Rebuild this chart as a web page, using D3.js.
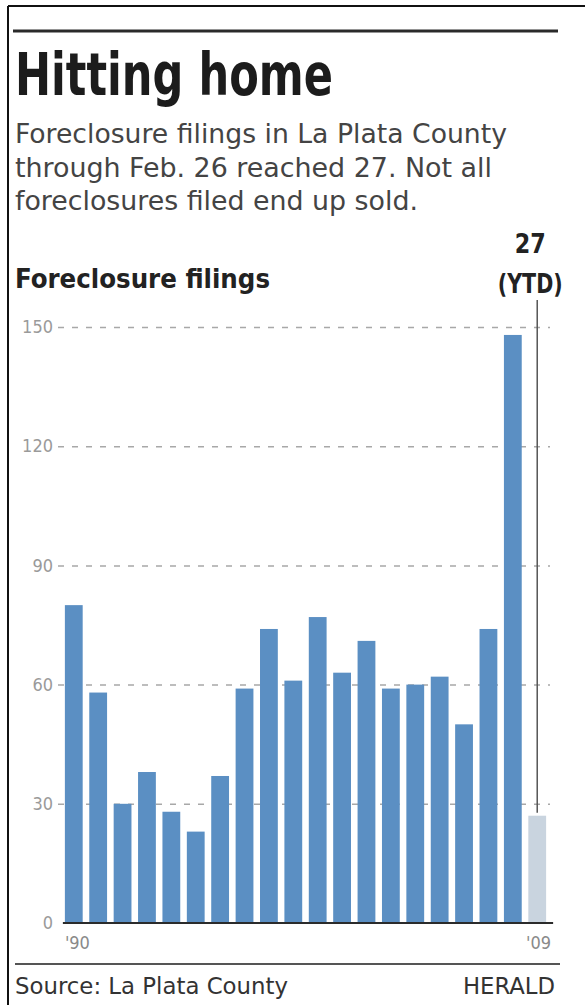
<!DOCTYPE html>
<html>
  <head>
    <meta charset="utf-8">
    <script src="https://d3js.org/d3.v7.min.js"></script>
    <title>Hitting home</title>
    <style>
      body {
        margin: 0px;
        background: #fff;
      }
      text {
        font-family: 'DejaVu Sans Condensed', 'DejaVu Sans', sans-serif;
      }
      .domain {
        display: none;
      }
      .tick line {
        stroke: #a8a8a8;
        stroke-width: 1.5;
        stroke-dasharray: 6, 8;
      }
      .tick text {
        fill: #9a9a9a;
        font-size: 18px;
      }
    </style>
  </head>
  <body>
    <svg width="585" height="1005"></svg>
    <script>

      const years = ['1990', '1991', '1992', '1993', '1994', '1995', '1996',
        '1997', '1998', '1999', '2000', '2001', '2002', '2003', '2004', '2005',
        '2006', '2007', '2008', '2009'];
      const filings = [80, 58, 30, 38, 28, 23, 37, 59, 74, 61, 77, 63, 71, 59,
        60, 62, 50, 74, 148, 27];
      const yTickValues = [0, 30, 60, 90, 120, 150];
      const yearLabels = ["'90", "'09"];
      const ytdLabel = ['27', '(YTD)'];

      const data = years.map((year, i) => ({ year, value: filings[i] }));
      const lastYear = years[years.length - 1];

      const margin = { left: 58, right: 35, top: 327, bottom: 82 };

      const svg = d3.select('svg');
      const width = +svg.attr('width');
      const height = +svg.attr('height');
      const innerWidth = width - margin.left - margin.right;
      const innerHeight = height - margin.top - margin.bottom;

      // squeeze/stretch a text to the width it takes in the print layout
      const fit = (sel, w) => sel
          .attr('textLength', w)
          .attr('lengthAdjust', 'spacingAndGlyphs');

      // frame (cropped: only top and left edges show)
      svg.append('line')
          .attr('x1', 8).attr('x2', width).attr('y1', 6).attr('y2', 6)
          .attr('stroke', '#111').attr('stroke-width', 2);
      svg.append('line')
          .attr('x1', 8).attr('x2', 8).attr('y1', 6).attr('y2', height)
          .attr('stroke', '#111').attr('stroke-width', 2);

      // header
      svg.append('line')
          .attr('x1', 13).attr('x2', 558).attr('y1', 31).attr('y2', 31)
          .attr('stroke', '#2a2a2a').attr('stroke-width', 3);

      svg.append('text')
          .attr('x', 15)
          .attr('y', 95)
          .attr('fill', '#1c1c1c')
          .style('font-size', '58px')
          .style('font-weight', 'bold')
          .call(fit, 318)
          .text('Hitting home');

      const subtitle = [
        'Foreclosure filings in La Plata County',
        'through Feb. 26 reached 27. Not all',
        'foreclosures filed end up sold.'
      ];
      const subtitleWidths = [492, 477, 403];
      svg.append('g').selectAll('text').data(subtitle)
        .enter().append('text')
          .attr('x', 15)
          .attr('y', (d, i) => 143 + i * 33.5)
          .attr('fill', '#444')
          .style('font-size', '26px')
          .attr('textLength', (d, i) => subtitleWidths[i])
          .attr('lengthAdjust', 'spacingAndGlyphs')
          .text(d => d);

      svg.append('text')
          .attr('x', 15)
          .attr('y', 288)
          .attr('fill', '#222')
          .style('font-size', '27px')
          .style('font-weight', 'bold')
          .call(fit, 255)
          .text('Foreclosure filings');

      // footer
      svg.append('line')
          .attr('x1', 15).attr('x2', 560).attr('y1', 964).attr('y2', 964)
          .attr('stroke', '#555').attr('stroke-width', 2);
      svg.append('text')
          .attr('x', 15)
          .attr('y', 994)
          .attr('fill', '#333')
          .style('font-size', '23px')
          .call(fit, 273)
          .text('Source: La Plata County');
      svg.append('text')
          .attr('x', 463)
          .attr('y', 994)
          .attr('fill', '#333')
          .style('font-size', '23px')
          .call(fit, 92)
          .text('HERALD');

      // chart
      const g = svg.append('g')
          .attr('transform', `translate(${margin.left},${margin.top})`);

      const xScale = d3.scaleBand()
          .domain(years)
          .range([2, innerWidth + 1])
          .paddingInner(0.27)
          .paddingOuter(0.2);

      const yScale = d3.scaleLinear()
          .domain([0, 150])
          .range([innerHeight, 0]);

      const yAxis = d3.axisLeft(yScale)
          .tickValues(yTickValues)
          .tickSize(-innerWidth)
          .tickPadding(5);

      const yAxisG = g.append('g').call(yAxis);
      yAxisG.selectAll('.tick')
          .filter(d => d === 0)
          .select('line').remove();

      g.selectAll('rect').data(data)
        .enter().append('rect')
          .attr('x', d => xScale(d.year))
          .attr('y', d => yScale(d.value))
          .attr('width', xScale.bandwidth())
          .attr('height', d => innerHeight - yScale(d.value))
          .attr('fill', d => d.year === lastYear ? '#c9d4df' : '#5b8fc3');

      // baseline
      g.append('line')
          .attr('x1', xScale(years[0]) - 2)
          .attr('x2', xScale(lastYear) + xScale.bandwidth() + 7)
          .attr('y1', yScale(0))
          .attr('y2', yScale(0))
          .attr('stroke', '#2b2b2b')
          .attr('stroke-width', 2);

      // year labels
      g.append('text')
          .attr('x', xScale(years[0]))
          .attr('y', yScale(0) + 26)
          .attr('fill', '#8a8a8a')
          .style('font-size', '18px')
          .text(yearLabels[0]);
      g.append('text')
          .attr('x', xScale(lastYear) + xScale.bandwidth() + 5)
          .attr('y', yScale(0) + 26)
          .attr('text-anchor', 'end')
          .attr('fill', '#8a8a8a')
          .style('font-size', '18px')
          .text(yearLabels[1]);

      // YTD callout
      const ytdX = xScale(lastYear) + xScale.bandwidth() / 2;
      g.append('line')
          .attr('x1', ytdX).attr('x2', ytdX)
          .attr('y1', 300 - margin.top)
          .attr('y2', yScale(filings[filings.length - 1]) - 3)
          .attr('stroke', '#555')
          .attr('stroke-width', 1.5);

      const ytdWidths = [31, 65];
      g.append('g').selectAll('text').data(ytdLabel)
        .enter().append('text')
          .attr('x', (d, i) => ytdX - 7 - ytdWidths[i] / 2)
          .attr('y', (d, i) => 253 - margin.top + i * 40)
          .attr('fill', '#222')
          .style('font-size', '26px')
          .style('font-weight', 'bold')
          .attr('textLength', (d, i) => ytdWidths[i])
          .attr('lengthAdjust', 'spacingAndGlyphs')
          .text(d => d);
    </script>
  </body>
</html>
